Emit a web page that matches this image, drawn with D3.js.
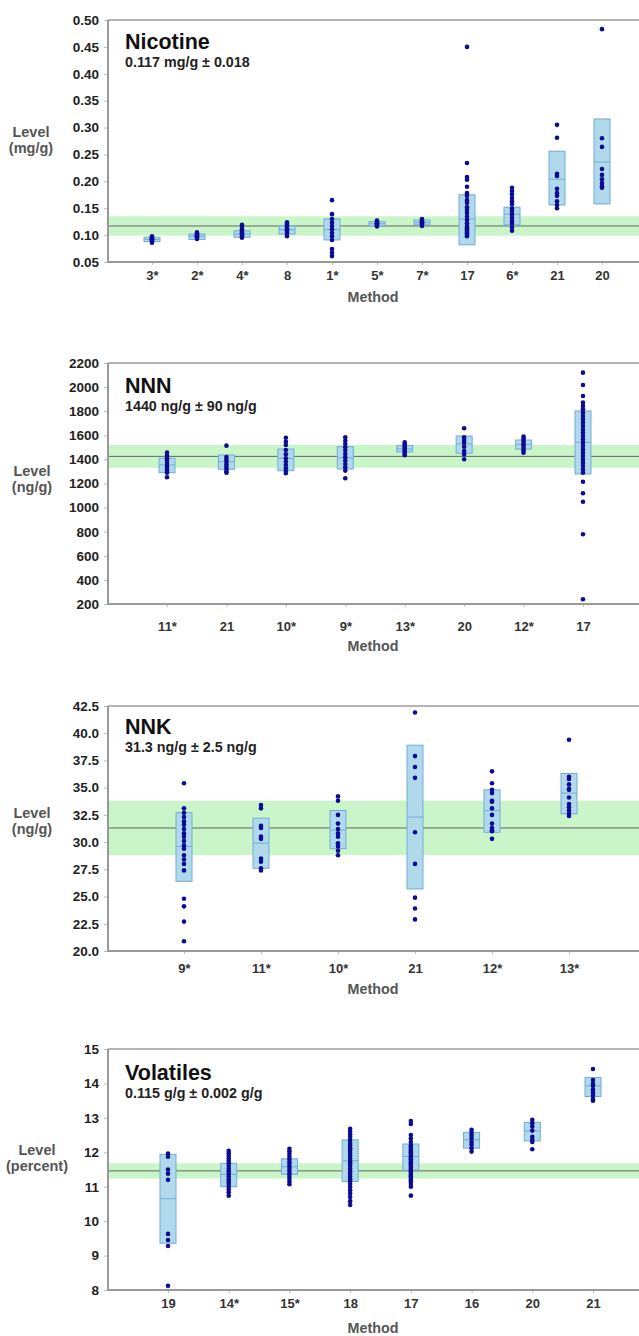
<!DOCTYPE html>
<html>
<head>
<meta charset="utf-8">
<script src="https://cdn.jsdelivr.net/npm/d3@7"></script>
<style>
  body { margin: 0; background: #fff; }
  svg text { font-family: Arial, "Liberation Sans", sans-serif; }
</style>
</head>
<body>
<div id="chart-area"></div>
<script>
// values (box = low / mid / high, dots = individual results)

var nicotineMethods = ["3*", "2*", "4*", "8", "1*", "5*", "7*", "17", "6*", "21", "20"];
var nicotineLow  = [0.088, 0.092, 0.096, 0.102, 0.091, 0.117, 0.119, 0.082, 0.119, 0.156, 0.158];
var nicotineMid  = [0.092, 0.098, 0.102, 0.110, 0.110, 0.121, 0.123, 0.130, 0.139, 0.204, 0.236];
var nicotineHigh = [0.096, 0.102, 0.108, 0.117, 0.130, 0.125, 0.128, 0.175, 0.152, 0.256, 0.316];
var nicotinePoints = [
  [0.086, 0.088, 0.090, 0.091, 0.092, 0.093, 0.094, 0.096, 0.098],
  [0.093, 0.095, 0.097, 0.098, 0.099, 0.100, 0.101, 0.103, 0.105],
  [0.095, 0.097, 0.099, 0.101, 0.103, 0.105, 0.108, 0.111, 0.115, 0.119],
  [0.098, 0.102, 0.106, 0.109, 0.111, 0.113, 0.116, 0.119, 0.121, 0.124],
  [0.061, 0.067, 0.074, 0.091, 0.098, 0.104, 0.111, 0.117, 0.123, 0.130, 0.139, 0.165],
  [0.116, 0.118, 0.120, 0.121, 0.122, 0.123, 0.125, 0.127],
  [0.117, 0.119, 0.121, 0.123, 0.124, 0.126, 0.128, 0.130],
  [0.098, 0.100, 0.102, 0.104, 0.106, 0.108, 0.110, 0.112, 0.114, 0.117, 0.122, 0.128, 0.134,
   0.141, 0.147, 0.152, 0.160, 0.165, 0.173, 0.178, 0.190, 0.203, 0.208, 0.234, 0.450],
  [0.108, 0.114, 0.121, 0.126, 0.132, 0.139, 0.145, 0.150, 0.158, 0.163, 0.169, 0.176, 0.182, 0.188],
  [0.150, 0.156, 0.163, 0.173, 0.178, 0.186, 0.210, 0.214, 0.281, 0.305],
  [0.188, 0.191, 0.197, 0.204, 0.212, 0.223, 0.264, 0.280, 0.483]
];
var nicotineRef = [0.117, 0.018];
var nicotineTicks = [0.05, 0.10, 0.15, 0.20, 0.25, 0.30, 0.35, 0.40, 0.45, 0.50];

var nnnMethods = ["11*", "21", "10*", "9*", "13*", "20", "12*", "17"];
var nnnLow  = [1290, 1318, 1306, 1320, 1462, 1451, 1486, 1279];
var nnnMid  = [1354, 1381, 1409, 1414, 1487, 1528, 1524, 1542];
var nnnHigh = [1409, 1437, 1486, 1506, 1514, 1594, 1561, 1802];
var nnnPoints = [
  [1252, 1290, 1310, 1330, 1350, 1370, 1390, 1410, 1430, 1456],
  [1290, 1300, 1320, 1340, 1360, 1380, 1400, 1420, 1514],
  [1285, 1303, 1326, 1354, 1381, 1409, 1442, 1478, 1519, 1547, 1580],
  [1243, 1307, 1335, 1362, 1390, 1418, 1445, 1473, 1500, 1528, 1555, 1583],
  [1435, 1450, 1465, 1480, 1495, 1510, 1525, 1541],
  [1401, 1442, 1470, 1506, 1539, 1561, 1583, 1658],
  [1456, 1475, 1495, 1515, 1535, 1555, 1572, 1589],
  [239, 779, 1049, 1119, 1215, 1289, 1317, 1345, 1372, 1400, 1428, 1455, 1483, 1511, 1538, 1566,
   1594, 1621, 1649, 1677, 1705, 1732, 1760, 1788, 1816, 1843, 1871, 1926, 2018, 2120]
];
var nnnRef = [1425, 95];
var nnnTicks = [200, 400, 600, 800, 1000, 1200, 1400, 1600, 1800, 2000, 2200];

var nnkMethods = ["9*", "11*", "10*", "21", "12*", "13*"];
var nnkLow  = [26.4, 27.6, 29.4, 25.7, 30.9, 32.6];
var nnkMid  = [29.6, 29.9, 31.1, 32.3, 32.9, 34.5];
var nnkHigh = [32.7, 32.2, 32.9, 38.9, 34.8, 36.3];
var nnkPoints = [
  [20.9, 22.7, 24.1, 24.8, 27.4, 28.0, 28.4, 28.8, 29.4, 29.7, 30.1, 30.5, 30.8, 31.2, 31.6, 31.9, 32.3, 32.7, 33.1, 35.4],
  [27.4, 27.6, 28.2, 28.5, 30.3, 30.5, 31.3, 31.5, 33.1, 33.4],
  [28.8, 29.2, 29.6, 29.9, 30.5, 30.8, 31.2, 31.7, 32.5, 33.8, 34.2],
  [22.9, 23.9, 24.9, 28.0, 30.9, 35.9, 36.9, 37.9, 41.9],
  [30.3, 31.0, 31.1, 31.3, 31.7, 32.5, 33.1, 33.7, 33.8, 34.5, 34.8, 35.4, 36.5],
  [32.4, 32.6, 32.9, 33.2, 33.5, 34.1, 34.8, 34.9, 35.3, 35.8, 36.0, 39.4]
];
var nnkRef = [31.3, 2.5];
var nnkTicks = [20, 22.5, 25, 27.5, 30, 32.5, 35, 37.5, 40, 42.5];

var volMethods = ["19", "14*", "15*", "18", "17", "16", "20", "21"];
var volLow  = [9.36, 11.00, 11.36, 11.15, 11.48, 12.12, 12.33, 13.62];
var volMid  = [10.65, 11.36, 11.58, 11.75, 11.88, 12.36, 12.62, 13.93];
var volHigh = [11.94, 11.68, 11.81, 12.36, 12.24, 12.58, 12.87, 14.17];
var volPoints = [
  [8.12, 9.28, 9.45, 9.63, 11.20, 11.38, 11.50, 11.87, 11.96],
  [10.74, 10.84, 10.92, 11.00, 11.08, 11.15, 11.22, 11.30, 11.38, 11.45, 11.52, 11.60, 11.68, 11.75, 11.82, 11.90, 11.97, 12.04],
  [11.07, 11.15, 11.23, 11.31, 11.39, 11.47, 11.55, 11.63, 11.71, 11.79, 11.87, 11.95, 12.03, 12.10],
  [10.47, 10.58, 10.70, 10.80, 10.90, 11.00, 11.08, 11.15, 11.22, 11.30, 11.38, 11.45, 11.52, 11.60,
   11.68, 11.75, 11.82, 11.90, 11.98, 12.05, 12.12, 12.20, 12.28, 12.36, 12.45, 12.52, 12.60, 12.68],
  [10.74, 11.00, 11.08, 11.15, 11.20, 11.25, 11.30, 11.35, 11.40, 11.45, 11.50, 11.55, 11.60, 11.65, 11.70,
   11.75, 11.80, 11.85, 11.90, 11.95, 12.00, 12.05, 12.10, 12.15, 12.20, 12.30, 12.40, 12.50, 12.82, 12.91],
  [12.02, 12.12, 12.22, 12.30, 12.40, 12.48, 12.56, 12.65],
  [12.09, 12.30, 12.36, 12.45, 12.63, 12.75, 12.84, 12.94],
  [13.50, 13.55, 13.65, 13.74, 13.82, 13.93, 14.00, 14.10, 14.42]
];
var volRef = [11.46, 0.22];
var volTicks = [8, 9, 10, 11, 12, 13, 14, 15];

var W = 639, H = 1336;
var plotLeft = 108, plotRight = 639;

var svg = d3.select("#chart-area").append("svg")
    .attr("width", W)
    .attr("height", H);

function drawPanel(p) {
  var g = svg.append("g");
  var y = d3.scaleLinear().domain(p.yDomain).range([p.yBottom, p.yTop]);
  var x = d3.scalePoint().domain(p.methods).range(p.xRange).padding(1);

  // reference band + consensus line
  g.append("rect")
    .attr("x", plotLeft).attr("width", plotRight - plotLeft)
    .attr("y", y(p.ref[0] + p.ref[1]))
    .attr("height", y(p.ref[0] - p.ref[1]) - y(p.ref[0] + p.ref[1]))
    .attr("fill", "#c9f5c9");
  g.append("line")
    .attr("x1", plotLeft).attr("x2", plotRight)
    .attr("y1", y(p.ref[0])).attr("y2", y(p.ref[0]))
    .attr("stroke", "#666").attr("stroke-width", 1);

  // frame
  g.append("line")
    .attr("x1", plotLeft).attr("x2", plotRight)
    .attr("y1", p.yTop).attr("y2", p.yTop)
    .attr("stroke", "#b4b4b4").attr("stroke-width", 2);

  var yAxis = d3.axisLeft(y).tickValues(p.ticks).tickFormat(p.fmt).tickSize(4).tickPadding(5);
  var ya = g.append("g").attr("transform", "translate(" + plotLeft + ",0)").call(yAxis);
  ya.select(".domain").remove();
  ya.selectAll("line").attr("stroke", "#bbb");
  ya.selectAll("text").attr("font-size", 13.5).attr("font-weight", "bold").attr("fill", "#222");

  var xAxis = d3.axisBottom(x).tickSize(3).tickPadding(p.xPad);
  var xa = g.append("g").attr("transform", "translate(0," + p.yBottom + ")").call(xAxis);
  xa.select(".domain").remove();
  xa.selectAll("line").attr("stroke", "#bbb");
  xa.selectAll("text").attr("font-size", 13).attr("font-weight", "bold").attr("fill", "#333");

  g.append("line")
    .attr("x1", plotLeft).attr("x2", plotLeft)
    .attr("y1", p.yTop).attr("y2", p.yBottom + 1)
    .attr("stroke", "#999").attr("stroke-width", 2);
  g.append("line")
    .attr("x1", plotLeft).attr("x2", plotRight)
    .attr("y1", p.yBottom).attr("y2", p.yBottom)
    .attr("stroke", "#999").attr("stroke-width", 2);

  // boxes
  var bw = 16;
  g.selectAll("rect.box")
    .data(p.methods)
    .enter().append("rect")
    .attr("class", "box")
    .attr("x", function(d) { return x(d) - bw / 2; })
    .attr("width", bw)
    .attr("y", function(d, i) { return y(p.high[i]); })
    .attr("height", function(d, i) { return y(p.low[i]) - y(p.high[i]); })
    .attr("fill", "#b0d9ec")
    .attr("stroke", "#74acd4")
    .attr("stroke-width", 1);
  g.selectAll("line.mid")
    .data(p.methods)
    .enter().append("line")
    .attr("class", "mid")
    .attr("x1", function(d) { return x(d) - bw / 2; })
    .attr("x2", function(d) { return x(d) + bw / 2; })
    .attr("y1", function(d, i) { return y(p.mid[i]); })
    .attr("y2", function(d, i) { return y(p.mid[i]); })
    .attr("stroke", "#74acd4");

  // individual results
  p.methods.forEach(function(m, i) {
    g.selectAll("circle.c" + i)
      .data(p.points[i])
      .enter().append("circle")
      .attr("cx", x(m))
      .attr("cy", function(d) { return y(d); })
      .attr("r", 2.3)
      .attr("fill", "#0b0b94");
  });

  // labels
  g.append("text").attr("x", 125).attr("y", p.titleY)
    .attr("font-size", 21.5).attr("font-weight", "bold").attr("fill", "#111")
    .text(p.title);
  g.append("text").attr("x", 125).attr("y", p.titleY + 17.5)
    .attr("font-size", 14.3).attr("font-weight", "bold").attr("fill", "#222")
    .text(p.subtitle);
  g.append("text").attr("x", p.levelX).attr("y", p.levelY)
    .attr("text-anchor", "middle").attr("font-size", 14.5).attr("font-weight", "bold").attr("fill", "#555")
    .text("Level");
  g.append("text").attr("x", p.levelX).attr("y", p.levelY + 16)
    .attr("text-anchor", "middle").attr("font-size", 14.5).attr("font-weight", "bold").attr("fill", "#555")
    .text(p.unit);
  g.append("text").attr("x", 373).attr("y", p.methodY)
    .attr("text-anchor", "middle").attr("font-size", 14.3).attr("font-weight", "bold").attr("fill", "#555")
    .text("Method");
}

drawPanel({
  methods: nicotineMethods, low: nicotineLow, mid: nicotineMid, high: nicotineHigh, points: nicotinePoints,
  ref: nicotineRef, ticks: nicotineTicks, fmt: d3.format(".2f"),
  yDomain: [0.05, 0.50], yBottom: 262, yTop: 20, xRange: [107, 647], xPad: 6,
  title: "Nicotine", subtitle: "0.117 mg/g \u00b1 0.018", unit: "(mg/g)",
  titleY: 49, levelX: 31, levelY: 137, methodY: 302
});

drawPanel({
  methods: nnnMethods, low: nnnLow, mid: nnnMid, high: nnnHigh, points: nnnPoints,
  ref: nnnRef, ticks: nnnTicks, fmt: d3.format("d"),
  yDomain: [200, 2200], yBottom: 604, yTop: 363, xRange: [107.6, 642.4], xPad: 15,
  title: "NNN", subtitle: "1440 ng/g \u00b1 90 ng/g", unit: "(ng/g)",
  titleY: 393, levelX: 32, levelY: 476, methodY: 651
});

drawPanel({
  methods: nnkMethods, low: nnkLow, mid: nnkMid, high: nnkHigh, points: nnkPoints,
  ref: nnkRef, ticks: nnkTicks, fmt: d3.format(".1f"),
  yDomain: [20, 42.5], yBottom: 951, yTop: 706, xRange: [107, 646], xPad: 10,
  title: "NNK", subtitle: "31.3 ng/g \u00b1 2.5 ng/g", unit: "(ng/g)",
  titleY: 734, levelX: 32, levelY: 818, methodY: 994
});

drawPanel({
  methods: volMethods, low: volLow, mid: volMid, high: volHigh, points: volPoints,
  ref: volRef, ticks: volTicks, fmt: d3.format("d"),
  yDomain: [8, 15], yBottom: 1290, yTop: 1049, xRange: [107.3, 653.7], xPad: 6,
  title: "Volatiles", subtitle: "0.115 g/g \u00b1 0.002 g/g", unit: "(percent)",
  titleY: 1080, levelX: 37, levelY: 1155, methodY: 1333
});
</script>
</body>
</html>
